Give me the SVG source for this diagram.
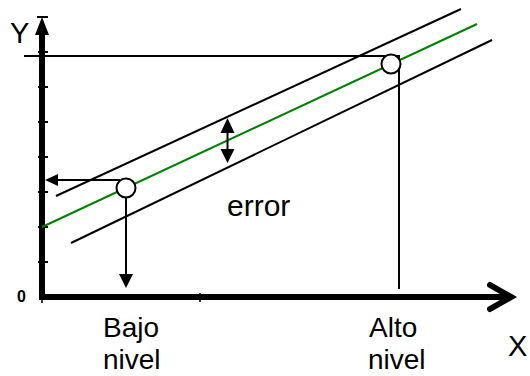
<svg xmlns="http://www.w3.org/2000/svg" width="530" height="376" viewBox="0 0 530 376">
<style>
.lbl{font-family:"Liberation Sans",Arial,sans-serif;fill:#000}
.ln{stroke:#000;stroke-width:2;fill:none}
.gr{stroke:#008000;stroke-width:2;fill:none}
.ax{stroke:#000;stroke-width:6;fill:none}
.tk{stroke:#000;stroke-width:2}
.pt{fill:#fff;stroke:#000;stroke-width:2}
.ah{fill:#000}
</style>
<rect width="530" height="376" fill="#fff"/>
<g id="axes">
  <line class="ax" x1="42" y1="30" x2="42" y2="300"/>
  <line class="ax" x1="39" y1="297" x2="508" y2="297"/>
  <polyline points="490,285 511,297 490,309" fill="none" stroke="#000" stroke-width="6" stroke-linecap="round" stroke-linejoin="miter"/>
  <polygon class="ah" points="42,17 35,35 49,35"/>
  <line class="tk" x1="37" y1="17" x2="48" y2="17"/>
  <g class="tk">
    <line x1="38" y1="52" x2="48" y2="52"/>
    <line x1="38" y1="87" x2="48" y2="87"/>
    <line x1="38" y1="122" x2="48" y2="122"/>
    <line x1="38" y1="157" x2="48" y2="157"/>
    <line x1="38" y1="192" x2="48" y2="192"/>
    <line x1="38" y1="227" x2="48" y2="227"/>
    <line x1="38" y1="262" x2="48" y2="262"/>
    <line x1="200" y1="293" x2="200" y2="302" stroke-width="1.5"/>
    <line x1="42" y1="297" x2="42" y2="303" stroke-width="1.5"/>
  </g>
  <text class="lbl" x="10" y="43" font-size="29">Y</text>
  <text class="lbl" x="508" y="356" font-size="29">X</text>
  <text class="lbl" x="17" y="302" font-size="16" font-weight="bold">0</text>
</g>
<g id="connectors">
  <line class="ln" x1="56" y1="196" x2="461" y2="9"/>
  <line class="gr" x1="42" y1="227" x2="477" y2="24"/>
  <line class="ln" x1="71" y1="243" x2="492" y2="40"/>
  <line class="ln" x1="24" y1="56" x2="400" y2="56" stroke-width="2.5"/>
  <line class="ln" x1="399" y1="56" x2="399" y2="289"/>
  <line class="ln" x1="56" y1="180" x2="120" y2="180"/>
  <polygon class="ah" points="45,180 58,174 58,186"/>
  <line class="ln" x1="126" y1="197" x2="126" y2="276"/>
  <polygon class="ah" points="126,288 119,274 133,274"/>
  <line class="ln" x1="227.5" y1="130" x2="227.5" y2="152"/>
  <polygon class="ah" points="227.5,118 220.5,133 234.5,133"/>
  <polygon class="ah" points="227.5,163 220.5,149 234.5,149"/>
</g>
<g id="point-low">
  <circle class="pt" cx="126" cy="188" r="9.5"/>
</g>
<g id="point-high">
  <circle class="pt" cx="391" cy="64" r="9.5"/>
</g>
<g id="label-error">
  <text class="lbl" x="227" y="216" font-size="30">error</text>
</g>
<g id="label-bajo">
  <text class="lbl" x="103" y="337" font-size="28">Bajo</text>
  <text class="lbl" x="103" y="369" font-size="28">nivel</text>
</g>
<g id="label-alto">
  <text class="lbl" x="369" y="337" font-size="28">Alto</text>
  <text class="lbl" x="368" y="369" font-size="28">nivel</text>
</g>
</svg>
